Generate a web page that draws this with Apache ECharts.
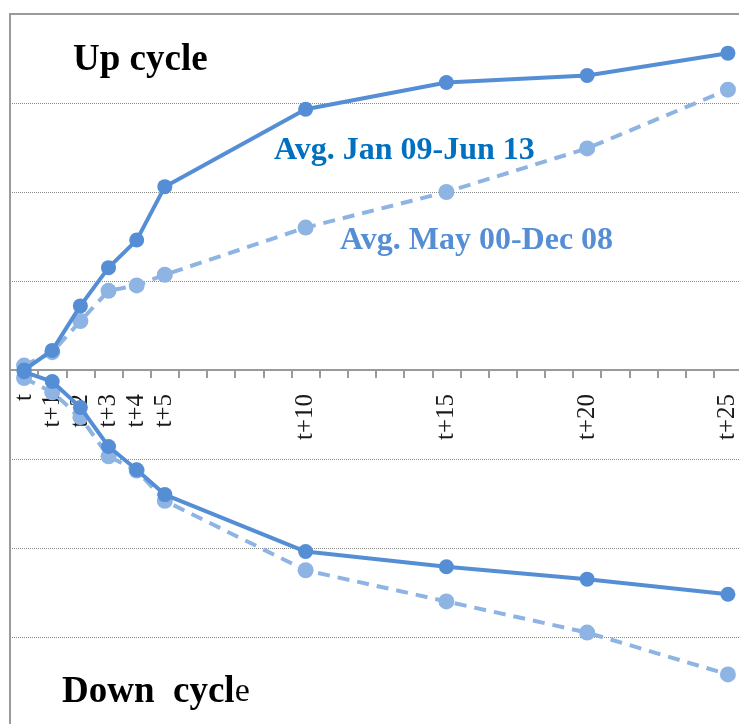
<!DOCTYPE html>
<html lang="en">
<head>
    <meta charset="UTF-8">
    <title>Up and down cycles</title>
    <style type="text/css">
        html, body{
            margin: 0;
            padding: 0;
            background-color: #ffffff;
        }
        #main{
            width: 739px;
            height: 724px;
        }
    </style>
</head>
<body>
<div id="main"></div>
<script src="https://cdn.jsdelivr.net/npm/echarts@6/dist/echarts.min.js"></script>
<script type="text/javascript">
    // x axis: one slot per period after t
    var periods = [];
    for (var i = 0; i <= 25; i++) {
        periods.push(i === 0 ? 't' : 't+' + i);
    }
    var shownLabels = ['t', 't+1', 't+2', 't+3', 't+4', 't+5', 't+10', 't+15', 't+20', 't+25'];
    var steps = [0, 1, 2, 3, 4, 5, 10, 15, 20, 25];

    // one gridline = 1
    var upRecent = [0, 0.22, 0.72, 1.15, 1.46, 2.06, 2.93, 3.23, 3.31, 3.56];
    var upOld = [0.05, 0.2, 0.55, 0.89, 0.95, 1.07, 1.6, 2.0, 2.49, 3.15];
    var downRecent = [-0.02, -0.13, -0.42, -0.86, -1.12, -1.40, -2.04, -2.21, -2.35, -2.52];
    var downOld = [-0.09, -0.25, -0.53, -0.97, -1.13, -1.47, -2.25, -2.6, -2.95, -3.42];

    var darkBlue = '#558ed5';
    var lightBlue = '#8eb4e3';

    function pairs(vals) {
        return steps.map(function (s, k) { return [s, vals[k]]; });
    }

    function solid(name, vals) {
        return {
            name: name, type: 'line', data: pairs(vals),
            symbol: 'circle', symbolSize: 15,
            lineStyle: {color: darkBlue, width: 4},
            itemStyle: {color: darkBlue},
            z: 4
        };
    }
    function dashed(name, vals) {
        return {
            name: name, type: 'line', data: pairs(vals),
            symbol: 'circle', symbolSize: 16,
            lineStyle: {color: lightBlue, width: 4, type: [12, 8]},
            itemStyle: {color: lightBlue},
            z: 3
        };
    }

    var chart = echarts.init(document.getElementById('main'));
    chart.setOption({
        animation: false,
        grid: {left: 10, right: -3, top: 14, bottom: -2, containLabel: false, outerBoundsMode: 'none'},
        xAxis: [{
            type: 'category',
            data: periods,
            boundaryGap: true,
            position: 'bottom',
            offset: -356,   // half the grid height: sits on the zero line
            axisLine: {onZero: false, lineStyle: {color: '#9a9a9a', width: 2}},
            axisTick: {show: true, interval: 0, length: 8, lineStyle: {color: '#9a9a9a', width: 2}},
            axisLabel: {
                show: true, interval: 0, rotate: 90, margin: 24, hideOverlap: false,
                fontFamily: 'Liberation Serif', fontSize: 25, color: '#1a1a1a',
                formatter: function (v) { return shownLabels.indexOf(v) >= 0 ? v : ''; }
            },
            splitLine: {show: false}
        }, {
            type: 'category',
            data: periods,
            position: 'top',
            axisLine: {onZero: false, lineStyle: {color: '#9a9a9a', width: 2}},
            axisTick: {show: false},
            axisLabel: {show: false}
        }],
        yAxis: {
            type: 'value',
            min: -4, max: 4, interval: 1,
            axisLine: {show: true, lineStyle: {color: '#9a9a9a', width: 2}},
            axisTick: {show: false},
            axisLabel: {show: false},
            splitLine: {show: true, lineStyle: {color: '#8a8a8a', width: 1, type: [1, 1]}}
        },
        series: [
            dashed('Avg. May 00-Dec 08 up', upOld),
            dashed('Avg. May 00-Dec 08 down', downOld),
            solid('Avg. Jan 09-Jun 13 up', upRecent),
            solid('Avg. Jan 09-Jun 13 down', downRecent)
        ],
        graphic: [
            {type: 'text', left: 73, top: 42, z: 10,
                style: {text: 'Up cycle', font: 'bold 37px "Liberation Serif"', fill: '#000'}},
            {type: 'text', left: 274, top: 135, z: 10,
                style: {text: 'Avg. Jan 09-Jun 13', font: 'bold 32px "Liberation Serif"', fill: '#0070c0'}},
            {type: 'text', left: 340, top: 225, z: 10,
                style: {text: 'Avg. May 00-Dec 08', font: 'bold 32px "Liberation Serif"', fill: darkBlue}},
            {type: 'text', left: 62, top: 674, z: 10,
                style: {
                    text: '{b|Down  cycl}{e|e}',
                    rich: {
                        b: {font: 'bold 37px "Liberation Serif"', fill: '#000'},
                        e: {font: '34px "Liberation Serif"', fill: '#000'}
                    }
                }}
        ]
    });
</script>
</body>
</html>
